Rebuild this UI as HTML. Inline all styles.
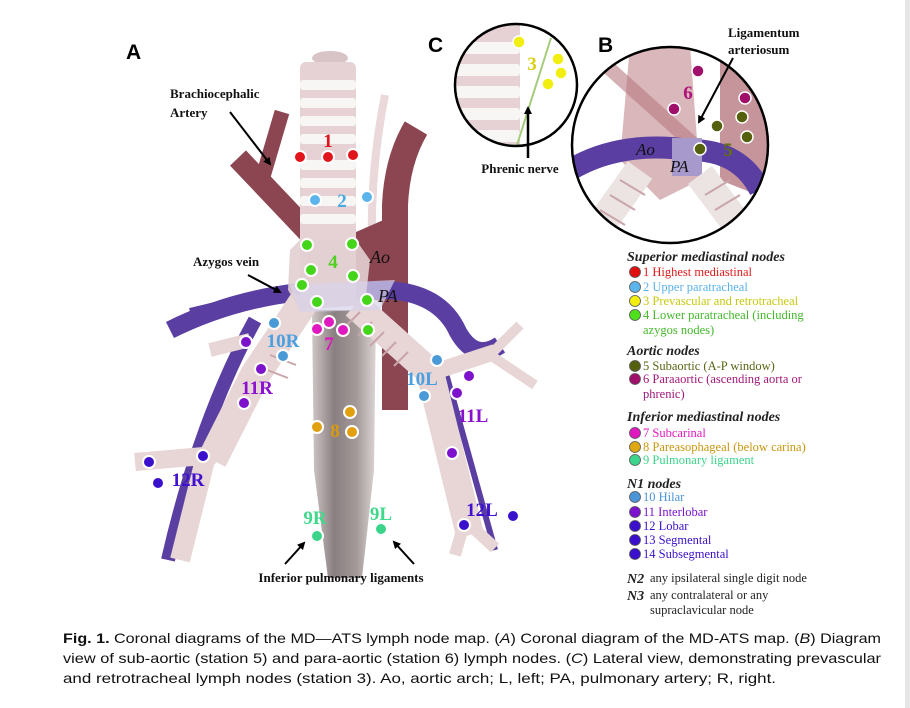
<!DOCTYPE html>
<html><head><meta charset="utf-8"><style>
html,body{margin:0;padding:0;background:#fff;}
svg{display:block;}
.lab{font-family:"Liberation Serif",serif;font-weight:bold;}
.blk{font-family:"Liberation Serif",serif;font-weight:bold;font-size:13px;fill:#111;}
.leg{font-family:"Liberation Serif",serif;font-size:12.5px;}
.hd{font-family:"Liberation Serif",serif;font-size:14px;font-style:italic;font-weight:bold;fill:#222;}
.cap{font-family:"Liberation Sans",sans-serif;font-size:14px;fill:#111;}
</style></head><body>
<svg width="910" height="708" viewBox="0 0 910 708" xmlns="http://www.w3.org/2000/svg">
<defs>
<linearGradient id="eso" x1="0" x2="1"><stop offset="0" stop-color="#cfc6c6"/><stop offset="0.35" stop-color="#8a7f80"/><stop offset="0.7" stop-color="#a49a9a"/><stop offset="1" stop-color="#ddd5d5"/></linearGradient>
<marker id="ah" markerWidth="8" markerHeight="8" refX="6" refY="4" orient="auto" markerUnits="userSpaceOnUse"><path d="M0,0 L8,4 L0,8 z" fill="#000"/></marker>
<clipPath id="cc"><circle cx="516" cy="85" r="61"/></clipPath>
<clipPath id="cb"><circle cx="670" cy="145" r="98"/></clipPath>
<filter id="gl" x="-50%" y="-50%" width="200%" height="200%"><feGaussianBlur stdDeviation="1.5"/></filter>
</defs>
<rect x="905" y="0" width="5" height="708" fill="#e6e6e6"/>

<!-- Panel A -->
<text x="126" y="59" font-family="Liberation Sans,sans-serif" font-weight="bold" font-size="21">A</text>

<!-- faint left carotid -->
<path d="M372,250 Q370,170 385,95" stroke="#ead8da" stroke-width="8" fill="none"/>
<!-- aorta -->
<path d="M395,410 L395,205 Q397,160 416,128" stroke="#8c4652" stroke-width="26" fill="none"/>
<polygon points="356,232 395,215 395,305 356,295" fill="#8c4652"/>
<!-- brachiocephalic -->
<path d="M330,255 L238,158" stroke="#8c4652" stroke-width="22" fill="none"/>
<path d="M262,180 L282,112" stroke="#8c4652" stroke-width="15" fill="none"/>

<!-- esophagus -->
<path d="M312,310 L376,310 L374,470 L362,578 L328,578 L314,470 Z" fill="url(#eso)"/>

<!-- PA -->
<path d="M170,330 Q230,300 300,292 L385,290 Q440,292 458,332 Q475,362 500,345" stroke="#5a3ea2" stroke-width="18" fill="none"/>
<path d="M190,312 L240,300" stroke="#5a3ea2" stroke-width="8" fill="none"/>
<path d="M255,320 Q200,420 168,560" stroke="#5a3ea2" stroke-width="14" fill="none"/>
<path d="M445,370 L495,550" stroke="#5a3ea2" stroke-width="6" fill="none"/>

<!-- bronchi -->
<g stroke="#e8d5d5" fill="none" stroke-linecap="butt">
<path d="M305,300 L255,375 L212,460" stroke-width="30"/>
<path d="M215,455 L135,462" stroke-width="18"/>
<path d="M205,460 L180,560" stroke-width="20"/>
<path d="M250,340 L210,350" stroke-width="14"/>
<path d="M355,305 L430,372 L470,535" stroke-width="28"/>
<path d="M440,370 L495,352" stroke-width="16"/>
<path d="M490,355 L520,325 M490,355 L535,385" stroke-width="10"/>
<path d="M465,520 L455,555 M470,525 L495,548" stroke-width="12"/>
</g>
<g stroke="#c9a6aa" stroke-width="2">
<line x1="360" y1="312" x2="346" y2="326"/><line x1="372" y1="322" x2="358" y2="336"/><line x1="384" y1="332" x2="370" y2="346"/><line x1="396" y1="342" x2="382" y2="356"/><line x1="408" y1="352" x2="394" y2="366"/>
<line x1="270" y1="355" x2="296" y2="365"/><line x1="262" y1="368" x2="288" y2="378"/>
</g>

<!-- trachea -->
<ellipse cx="330" cy="58" rx="18" ry="7" fill="#d8c4c6"/>
<rect x="300" y="62" width="56" height="240" rx="6" fill="#e6d2d4"/>
<g fill="#f8f6f4">
<rect x="300" y="80" width="56" height="10" rx="3"/><rect x="300" y="98" width="56" height="10" rx="3"/><rect x="300" y="116" width="56" height="10" rx="3"/><rect x="300" y="134" width="56" height="10" rx="3"/>
<rect x="300" y="160" width="56" height="10" rx="3"/><rect x="300" y="178" width="56" height="10" rx="3"/><rect x="300" y="196" width="56" height="10" rx="3"/><rect x="300" y="214" width="56" height="10" rx="3"/>
</g>
<polygon points="290,250 300,240 356,240 370,260 365,305 300,310 288,290" fill="#e2cfd1" opacity="0.9"/>
<polygon points="290,285 395,280 380,310 300,312" fill="#d7d3ea" opacity="0.7"/>

<!-- dots A -->
<g stroke="#fff" stroke-width="2">
<g fill="#e0141a"><circle cx="300" cy="157" r="6"/><circle cx="328" cy="157" r="6"/><circle cx="353" cy="155" r="6"/></g>
<g fill="#5cb4ec"><circle cx="315" cy="200" r="6"/><circle cx="367" cy="197" r="6"/></g>
<g fill="#44d51a"><circle cx="307" cy="245" r="6"/><circle cx="352" cy="244" r="6"/><circle cx="311" cy="270" r="6"/><circle cx="353" cy="276" r="6"/><circle cx="302" cy="285" r="6"/><circle cx="317" cy="302" r="6"/><circle cx="367" cy="300" r="6"/><circle cx="368" cy="330" r="6"/></g>
<g fill="#e018c0"><circle cx="317" cy="329" r="6"/><circle cx="329" cy="322" r="6"/><circle cx="343" cy="330" r="6"/></g>
<g fill="#4a9ad8"><circle cx="274" cy="323" r="6"/><circle cx="283" cy="356" r="6"/><circle cx="437" cy="360" r="6"/><circle cx="424" cy="396" r="6"/></g>
<g fill="#7c12cc"><circle cx="246" cy="342" r="6"/><circle cx="261" cy="369" r="6"/><circle cx="244" cy="403" r="6"/><circle cx="469" cy="376" r="6"/><circle cx="457" cy="393" r="6"/><circle cx="452" cy="453" r="6"/></g>
<g fill="#3a10cc"><circle cx="149" cy="462" r="6"/><circle cx="203" cy="456" r="6"/><circle cx="158" cy="483" r="6"/><circle cx="464" cy="525" r="6"/><circle cx="513" cy="516" r="6"/></g>
<g fill="#e0a010"><circle cx="350" cy="412" r="6"/><circle cx="317" cy="427" r="6"/><circle cx="352" cy="432" r="6"/></g>
<g fill="#3cd48a"><circle cx="317" cy="536" r="6"/><circle cx="381" cy="529" r="6"/></g>
</g>
<g class="lab" font-size="19" text-anchor="middle">
<text x="328" y="147" fill="#e0141a">1</text>
<text x="342" y="207" fill="#4aa8e0">2</text>
<text x="333" y="268" fill="#4fcf1f">4</text>
<text x="329" y="350" fill="#e010c0">7</text>
<text x="283" y="347" fill="#4a9fe0">10R</text>
<text x="257" y="394" fill="#8a10d0">11R</text>
<text x="188" y="486" fill="#4010d0">12R</text>
<text x="335" y="437" fill="#d89a10">8</text>
<text x="315" y="524" fill="#40d88a">9R</text>
<text x="381" y="520" fill="#40d88a">9L</text>
<text x="422" y="385" fill="#4a9fe0">10L</text>
<text x="473" y="422" fill="#8a10d0">11L</text>
<text x="482" y="516" fill="#4010d0">12L</text>
</g>
<text x="370" y="263" font-family="Liberation Serif,serif" font-style="italic" font-size="18" fill="#111">Ao</text>
<text x="378" y="302" font-family="Liberation Serif,serif" font-style="italic" font-size="18" fill="#111">PA</text>

<text class="blk" x="170" y="98">Brachiocephalic</text>
<text class="blk" x="170" y="117">Artery</text>
<line x1="230" y1="112" x2="270" y2="164" stroke="#000" stroke-width="2" marker-end="url(#ah)"/>
<text class="blk" x="193" y="266">Azygos vein</text>
<line x1="248" y1="275" x2="280" y2="292" stroke="#000" stroke-width="2" marker-end="url(#ah)"/>
<text class="blk" x="341" y="582" text-anchor="middle">Inferior pulmonary ligaments</text>
<line x1="285" y1="564" x2="304" y2="543" stroke="#000" stroke-width="2" marker-end="url(#ah)"/>
<line x1="414" y1="564" x2="394" y2="542" stroke="#000" stroke-width="2" marker-end="url(#ah)"/>

<!-- Panel C -->
<text x="428" y="52" font-family="Liberation Sans,sans-serif" font-weight="bold" font-size="21">C</text>
<g clip-path="url(#cc)">
<rect x="440" y="20" width="140" height="130" fill="#fff"/>
<rect x="440" y="20" width="80" height="130" fill="#e6d2d4"/>
<g fill="#f8f6f4"><rect x="440" y="42" width="80" height="12" rx="3"/><rect x="440" y="64" width="80" height="12" rx="3"/><rect x="440" y="86" width="80" height="12" rx="3"/><rect x="440" y="108" width="80" height="12" rx="3"/><rect x="440" y="130" width="80" height="12" rx="3"/></g>
<line x1="551" y1="38" x2="517" y2="145" stroke="#a4cc7a" stroke-width="2"/>
</g>
<circle cx="516" cy="85" r="61" fill="none" stroke="#000" stroke-width="2.5"/>
<g fill="#f2ee10" stroke="#fff" stroke-width="1.5"><circle cx="519" cy="42" r="6"/><circle cx="558" cy="59" r="6"/><circle cx="561" cy="73" r="6"/><circle cx="548" cy="84" r="6"/></g>
<text class="lab" x="532" y="70" font-size="19" fill="#d8d010" text-anchor="middle">3</text>
<line x1="528" y1="158" x2="528" y2="108" stroke="#000" stroke-width="2.5" marker-end="url(#ah)"/>
<text class="blk" x="520" y="173" text-anchor="middle">Phrenic nerve</text>

<!-- Panel B -->
<text x="598" y="52" font-family="Liberation Sans,sans-serif" font-weight="bold" font-size="21">B</text>
<g clip-path="url(#cb)">
<rect x="570" y="45" width="200" height="200" fill="#fff"/>
<polygon points="630,45 690,45 700,180 660,200 620,160" fill="#d9b7ba"/>
<path d="M600,60 L700,150" stroke="#b77a82" stroke-width="14" opacity="0.6"/>
<polygon points="720,60 770,60 770,200 720,180" fill="#b77a82" opacity="0.8"/>
<path d="M570,170 Q620,140 690,150 Q740,150 760,190" stroke="#5a3ea2" stroke-width="22" fill="none"/>
<rect x="672" y="138" width="30" height="38" fill="#a799cc"/>
<path d="M640,170 L590,240" stroke="#ece4e2" stroke-width="30"/>
<path d="M700,175 L745,235" stroke="#ece4e2" stroke-width="30"/>
<g stroke="#c9a6aa" stroke-width="2"><line x1="620" y1="180" x2="645" y2="195"/><line x1="610" y1="195" x2="635" y2="210"/><line x1="600" y1="210" x2="625" y2="225"/><line x1="705" y1="195" x2="730" y2="180"/><line x1="715" y1="210" x2="740" y2="195"/></g>
</g>
<circle cx="670" cy="145" r="98" fill="none" stroke="#000" stroke-width="2.5"/>
<g stroke="#fff" stroke-width="1.5">
<g fill="#a0106a"><circle cx="698" cy="71" r="6"/><circle cx="745" cy="98" r="6"/><circle cx="674" cy="109" r="6"/></g>
<g fill="#55600e"><circle cx="742" cy="117" r="6"/><circle cx="717" cy="126" r="6"/><circle cx="747" cy="137" r="6"/><circle cx="700" cy="149" r="6"/></g>
</g>
<text class="lab" x="688" y="99" font-size="19" fill="#b0107a" text-anchor="middle">6</text>
<text class="lab" x="728" y="156" font-size="19" fill="#657010" text-anchor="middle">5</text>
<text x="636" y="155" font-family="Liberation Serif,serif" font-style="italic" font-size="17" fill="#111">Ao</text>
<text x="670" y="172" font-family="Liberation Serif,serif" font-style="italic" font-size="17" fill="#111">PA</text>
<text class="blk" x="728" y="37">Ligamentum</text>
<text class="blk" x="728" y="54">arteriosum</text>
<line x1="733" y1="58" x2="699" y2="122" stroke="#000" stroke-width="2" marker-end="url(#ah)"/>

<!-- Legend -->
<text class="hd" x="627" y="261">Superior mediastinal nodes</text>
<g stroke="#555" stroke-width="0.8">
<circle cx="635" cy="272" r="5.5" fill="#e01010"/><circle cx="635" cy="287" r="5.5" fill="#5cb4ec"/><circle cx="635" cy="301" r="5.5" fill="#f2ee10"/><circle cx="635" cy="315" r="5.5" fill="#4ee01a"/>
<circle cx="635" cy="366" r="5.5" fill="#55600e"/><circle cx="635" cy="379" r="5.5" fill="#a0106a"/>
<circle cx="635" cy="433" r="5.5" fill="#e018c0"/><circle cx="635" cy="447" r="5.5" fill="#e0a810"/><circle cx="635" cy="460" r="5.5" fill="#3cd48a"/>
<circle cx="635" cy="497" r="5.5" fill="#4a94d8"/><circle cx="635" cy="512" r="5.5" fill="#7c12cc"/><circle cx="635" cy="526" r="5.5" fill="#3a10cc"/><circle cx="635" cy="540" r="5.5" fill="#3a10cc"/><circle cx="635" cy="554" r="5.5" fill="#3a10cc"/>
</g>
<g class="leg">
<text x="643" y="276" fill="#e01a1a">1 Highest mediastinal</text>
<text x="643" y="291" fill="#5ab2ec">2 Upper paratracheal</text>
<text x="643" y="305" fill="#c8c810">3 Prevascular and retrotracheal</text>
<text x="643" y="319" fill="#44b82a">4 Lower paratracheal (including</text>
<text x="643" y="334" fill="#44b82a">azygos nodes)</text>
<text x="643" y="370" fill="#5a6414">5 Subaortic (A-P window)</text>
<text x="643" y="383" fill="#a0187a">6 Paraaortic (ascending aorta or</text>
<text x="643" y="398" fill="#a0187a">phrenic)</text>
<text x="643" y="437" fill="#e018c0">7 Subcarinal</text>
<text x="643" y="451" fill="#c8960e">8 Pareasophageal (below carina)</text>
<text x="643" y="464" fill="#3cd48a">9 Pulmonary ligament</text>
<text x="643" y="501" fill="#4a94d8">10 Hilar</text>
<text x="643" y="516" fill="#7c12cc">11 Interlobar</text>
<text x="643" y="530" fill="#3a10cc">12 Lobar</text>
<text x="643" y="544" fill="#3a10cc">13 Segmental</text>
<text x="643" y="558" fill="#3a10cc">14 Subsegmental</text>
<text x="650" y="582" fill="#222">any ipsilateral single digit node</text>
<text x="650" y="599" fill="#222">any contralateral or any</text>
<text x="650" y="614" fill="#222">supraclavicular node</text>
</g>
<text class="hd" x="627" y="355">Aortic nodes</text>
<text class="hd" x="627" y="421">Inferior mediastinal nodes</text>
<text class="hd" x="627" y="488">N1 nodes</text>
<text class="hd" x="627" y="583">N2</text>
<text class="hd" x="627" y="600">N3</text>

<!-- Caption -->
<text class="cap" x="63" y="643" textLength="818" lengthAdjust="spacingAndGlyphs"><tspan font-weight="bold">Fig. 1.</tspan>  Coronal diagrams of the MD—ATS lymph node map. (<tspan font-style="italic">A</tspan>) Coronal diagram of the MD-ATS map. (<tspan font-style="italic">B</tspan>) Diagram</text>
<text class="cap" x="63" y="663" textLength="818" lengthAdjust="spacingAndGlyphs">view of sub-aortic (station 5) and para-aortic (station 6) lymph nodes. (<tspan font-style="italic">C</tspan>) Lateral view, demonstrating prevascular</text>
<text class="cap" x="63" y="683" textLength="713" lengthAdjust="spacingAndGlyphs">and retrotracheal lymph nodes (station 3). Ao, aortic arch; L, left; PA, pulmonary artery; R, right.</text>
</svg>
</body></html>
